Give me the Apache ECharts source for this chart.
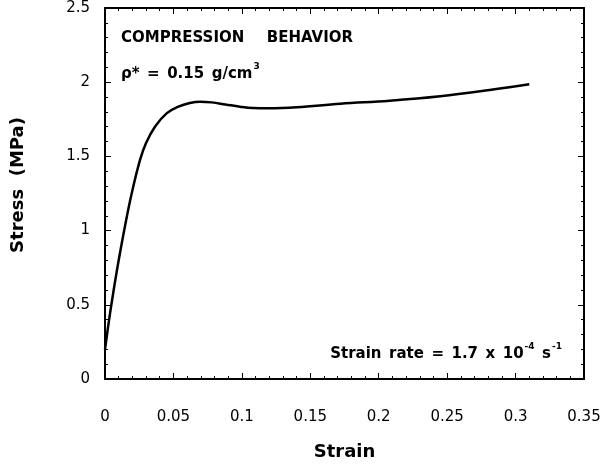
<!DOCTYPE html>
<html>
<head>
<meta charset="utf-8">
<script src="https://cdn.jsdelivr.net/npm/echarts@6/dist/echarts.min.js"></script>
<style>
  html, body { margin: 0; padding: 0; background: #fff; }
  #chart { width: 605px; height: 466px; }
</style>
</head>
<body>
<div id="chart"></div>
<script>
// strain / stress
const strain = [0, 0.003, 0.006, 0.010, 0.0146, 0.0195, 0.0256, 0.030, 0.0365, 0.045, 0.0536, 0.062,
  0.0694, 0.078, 0.088, 0.0986, 0.108, 0.120, 0.140, 0.172, 0.208, 0.245, 0.281, 0.310];
const stress = [0.20, 0.40, 0.58, 0.80, 1.03, 1.25, 1.476, 1.59, 1.70, 1.79, 1.835, 1.86,
  1.869, 1.864, 1.85, 1.835, 1.826, 1.824, 1.831, 1.855, 1.875, 1.905, 1.947, 1.986];

const xTicks = [0, 0.35, 0.05];  // min, max, interval
const yTicks = [0, 2.5, 0.5];

const font = 'DejaVu Sans, sans-serif';
const sp = '\u2002'; // en space, the reference has wide word gaps
const chart = echarts.init(document.getElementById('chart'));

function axisBase(range, showLabel) {
  return {
    type: 'value',
    min: range[0],
    max: range[1],
    interval: range[2],
    axisLine: { show: true, onZero: false, lineStyle: { color: '#000', width: 2 } },
    axisTick: { show: true, inside: true, length: 6, lineStyle: { color: '#000', width: 1 } },
    minorTick: { show: true, splitNumber: 5, length: 3, lineStyle: { color: '#000', width: 1 } },
    splitLine: { show: false },
    axisLabel: { show: showLabel }
  };
}

const xBottom = axisBase(xTicks, true);
xBottom.position = 'bottom';
xBottom.axisLabel = { show: true, margin: 31, color: '#000', fontSize: 15, fontFamily: font };
xBottom.name = 'Strain';
xBottom.nameLocation = 'middle';
xBottom.nameGap = 64;
xBottom.nameTextStyle = { color: '#000', fontSize: 18, fontWeight: 'bold', fontFamily: font, verticalAlign: 'top' };

const xTop = axisBase(xTicks, false);
xTop.position = 'top';

const yLeft = axisBase(yTicks, true);
yLeft.position = 'left';
yLeft.axisLabel = { show: true, margin: 15, color: '#000', fontSize: 15, fontFamily: font, padding: [12, 0, 0, 0] };
yLeft.name = 'Stress  (MPa)';
yLeft.nameLocation = 'middle';
yLeft.nameGap = 78;
yLeft.nameTextStyle = { color: '#000', fontSize: 18, fontWeight: 'bold', fontFamily: font, padding: [0, 0, 0, 17] };

const yRight = axisBase(yTicks, false);
yRight.position = 'right';

const rich = {
  n: { fill: '#000', fontSize: 15, fontWeight: 'bold', fontFamily: font, verticalAlign: 'bottom', lineHeight: 20 },
  s: { fill: '#000', fontSize: 9, fontWeight: 'bold', fontFamily: font, verticalAlign: 'top', lineHeight: 20, padding: [0, 0, 8, 1] }
};

chart.setOption({
  backgroundColor: '#fff',
  animation: false,
  grid: { left: 105, right: 21, top: 8, bottom: 87 },
  xAxis: [xBottom, xTop],
  yAxis: [yLeft, yRight],
  series: [{
    type: 'line',
    xAxisIndex: 0,
    yAxisIndex: 0,
    data: strain.map((s, i) => [s, stress[i]]),
    smooth: 0.4,
    showSymbol: false,
    lineStyle: { color: '#000', width: 2.5 }
  }],
  graphic: [
    {
      type: 'text', left: 121, top: 31,
      style: { text: 'COMPRESSION' + sp + sp + sp + 'BEHAVIOR', fill: '#000', font: 'bold 15px ' + font }
    },
    {
      type: 'text', left: 121, top: 62,
      style: { text: '{n|\u03c1*' + sp + '=' + sp + '0.15' + sp + 'g/cm}{s|3}', rich: rich }
    },
    {
      type: 'text', right: 43, top: 342,
      style: {
        text: '{n|Strain' + sp + 'rate' + sp + '=' + sp + '1.7' + sp + 'x' + sp + '10}{s|-4}{n|' + sp + 's}{s|-1}',
        rich: rich
      }
    }
  ]
});
</script>
</body>
</html>
